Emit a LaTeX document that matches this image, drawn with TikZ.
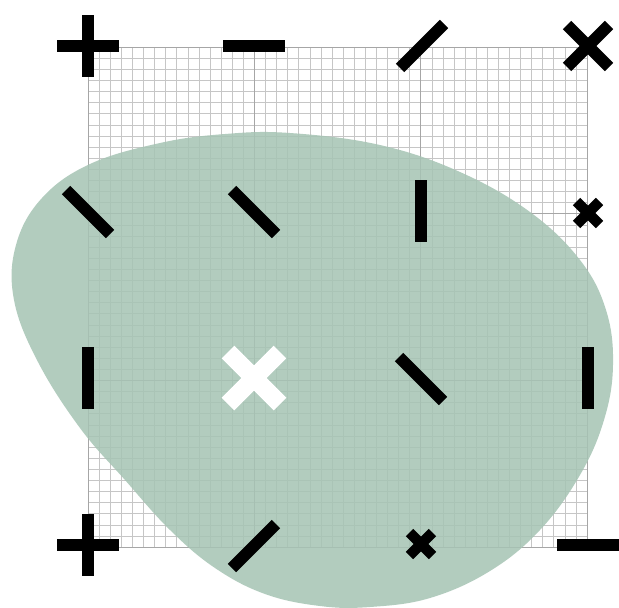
\documentclass[tikz,border=0pt]{standalone}
\usepackage{tikz}
\definecolor{blobgreen}{RGB}{166,196,180}
\tikzset{
  fineline/.style={draw=gray!45, line width=0.5pt},
  majorline/.style={draw=gray!70, line width=0.8pt},
  blob/.style={fill=blobgreen, fill opacity=0.86},
  bar/.style={line width=12pt, line cap=butt, draw=black},
}
\newcommand\mkH[2]{\draw[bar] ({#1-31},#2) -- ({#1+31},#2);}
\newcommand\mkV[2]{\draw[bar] (#1,{#2-31}) -- (#1,{#2+31});}
\newcommand\mkS[2]{\draw[bar] ({#1-22},{#2+22}) -- ({#1+22},{#2-22});}
\newcommand\mkB[2]{\draw[bar] ({#1-22},{#2-22}) -- ({#1+22},{#2+22});}
\newcommand\mkP[2]{\mkH{#1}{#2}\mkV{#1}{#2}}
% #1 x, #2 y, #3 half-diagonal component, #4 width, #5 colour
\newcommand\mkX[5]{\draw[bar, line width=#4pt, draw=#5] ({#1-#3},{#2-#3}) -- ({#1+#3},{#2+#3});
  \draw[bar, line width=#4pt, draw=#5] ({#1-#3},{#2+#3}) -- ({#1+#3},{#2-#3});}
\begin{document}
\begin{tikzpicture}[x=1pt,y=-1pt]
\useasboundingbox (0,0) rectangle (619,608);
\fill[white] (0,0) rectangle (619,608);
% fine grid
\foreach \i in {0,...,45}{
  \draw[fineline] ({88+\i*11.0889},47) -- ({88+\i*11.0889},547);
  \draw[fineline] (88,{47+\i*11.1111}) -- (587,{47+\i*11.1111});
}
% major grid
\foreach \i in {0,...,3}{
  \draw[majorline] ({88+\i*166.333},47) -- ({88+\i*166.333},547);
  \draw[majorline] (88,{47+\i*166.667}) -- (587,{47+\i*166.667});
}
% blob
\fill[blob] plot[smooth cycle, tension=0.65] coordinates {
 (290,133) (380,145) (460,172) (530,212) (580,260) (606,310) (613,365)
 (604,420) (580,475) (540,530) (490,571) (430,598) (370,607)
 (320,606) (265,594) (215,568) (170,530) (125,480) (80,428)
 (38,362) (14,300) (16,245) (42,198) (90,164) (160,143) (225,134)};
% row 1
\mkP{88}{46}
\mkH{254}{46}
\mkS{422}{46}
\mkX{588}{46}{21}{12}{black}
% row 2
\mkB{88}{212}
\mkB{254}{212}
\mkV{421}{211}
\mkX{588}{213}{11.5}{10.5}{black}
% row 3
\mkV{88}{378}
\mkX{254}{378}{26}{18}{white}
\mkB{421}{379}
\mkV{588}{378}
% row 4
\mkP{88}{545}
\mkS{254}{546}
\mkX{421}{544}{11.5}{10.5}{black}
\mkH{588}{545}
\end{tikzpicture}
\end{document}
